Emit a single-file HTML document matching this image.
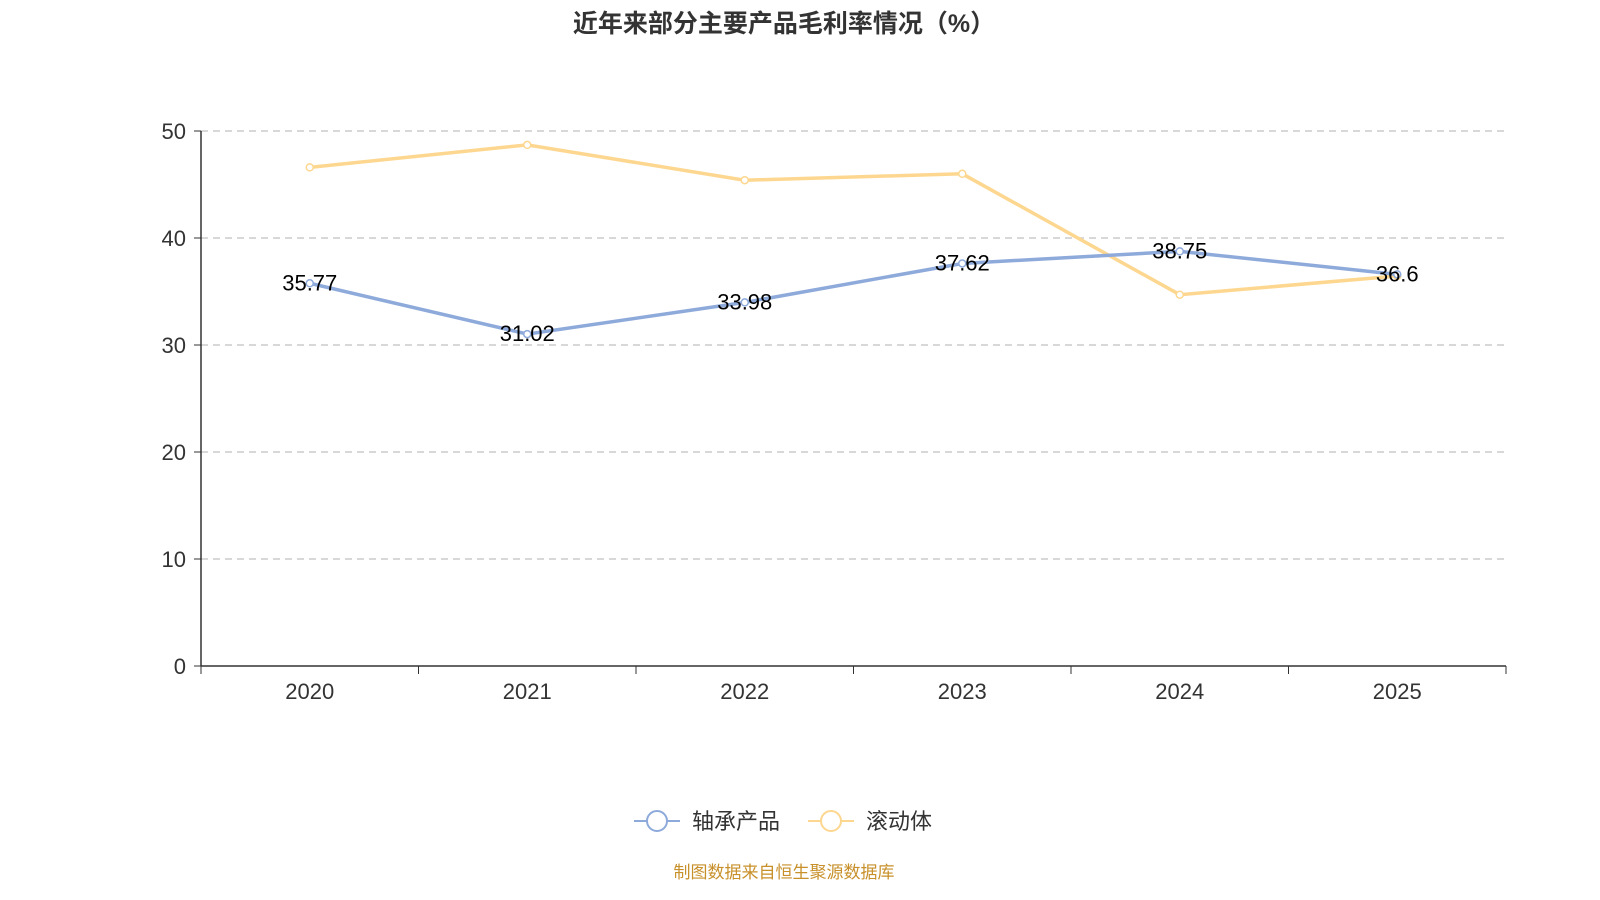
<!DOCTYPE html>
<html><head><meta charset="utf-8"><style>
body{margin:0;background:#fff;}
svg{display:block;font-family:"Liberation Sans","Noto Sans CJK SC",sans-serif;}
</style></head><body>
<svg id="chart" width="1600" height="900">
<text x="784" y="32" text-anchor="middle" font-size="25" font-weight="bold" fill="#333">近年来部分主要产品毛利率情况（%）</text>
<g id="grid"></g><g id="axes"></g><g id="series"></g><g id="labels"></g>
<g>
<g>
<line x1="634" y1="821" x2="680" y2="821" stroke="#8eaadb" stroke-width="2"/>
<circle cx="657" cy="821" r="10" fill="#fff" stroke="#8eaadb" stroke-width="2"/>
<text x="692" y="829" font-size="22" fill="#333">轴承产品</text></g>
<g>
<line x1="808" y1="821" x2="854" y2="821" stroke="#fdd78f" stroke-width="2"/>
<circle cx="831" cy="821" r="10" fill="#fff" stroke="#fdd78f" stroke-width="2"/>
<text x="866" y="829" font-size="22" fill="#333">滚动体</text></g>
</g>
<text x="784" y="878" text-anchor="middle" font-size="17" fill="#c8902a">制图数据来自恒生聚源数据库</text>
</svg>
<script>
const categories=["2020","2021","2022","2023","2024","2025"];
const bearing=[35.77,31.02,33.98,37.62,38.75,36.6];
const rolling=[46.6,48.7,45.4,46.0,34.7,36.45];
const yTicks=[0,10,20,30,40,50];
const NS="http://www.w3.org/2000/svg";
const L=201,R=1506,T=131,B=666,yMax=50;
const band=(R-L)/categories.length;
const x=i=>L+band*(i+0.5);
const y=v=>B-(v/yMax)*(B-T);
function mk(tag,attrs,parent,text){const e=document.createElementNS(NS,tag);for(const k in attrs)e.setAttribute(k,attrs[k]);if(text!==undefined)e.textContent=text;document.getElementById(parent).appendChild(e);return e;}
yTicks.forEach(t=>{
 if(t>0){const g=mk('line',{x1:L,x2:R,y1:y(t),y2:y(t),stroke:'#ccc','stroke-width':1.5,'stroke-dasharray':'7,5'},'grid');
 
 }
 const tk=mk('line',{x1:L-7,x2:L,y1:y(t),y2:y(t),stroke:'#333'},'axes');
 
 
 const lb=mk('text',{x:L-15,y:y(t)+8,'text-anchor':'end','font-size':22,fill:'#333'},'axes',t);
 
 
});
const ya=mk('line',{x1:L,x2:L,y1:T,y2:B,stroke:'#333','stroke-width':1.5},'axes');


const xa=mk('line',{x1:L,x2:R,y1:B,y2:B,stroke:'#333','stroke-width':1.5},'axes');


for(let i=0;i<=categories.length;i++){const tk=mk('line',{x1:L+band*i,x2:L+band*i,y1:B,y2:B+8,stroke:'#333'},'axes');
 
 }
categories.forEach((c,i)=>{const t=mk('text',{x:x(i),y:B+33,'text-anchor':'middle','font-size':22,fill:'#333'},'axes',c);
 
 });
function series(vals,color,name,labels){
 const p=mk('polyline',{points:vals.map((v,i)=>x(i)+','+y(v)).join(' '),fill:'none',stroke:color,'stroke-width':3.5},'series');
 
 
 vals.forEach((v,i)=>{const c=mk('circle',{cx:x(i),cy:y(v),r:3.5,fill:'#fff',stroke:color,'stroke-width':1.5},'series');
  
  
  if(labels){const t=mk('text',{x:x(i),y:y(v)+7,'text-anchor':'middle','font-size':22,fill:'#000'},'labels',v);
   
   }});
}
series(rolling,'#fdd78f','rolling',false);
series(bearing,'#8eaadb','bearing',true);
</script>
</body></html>
